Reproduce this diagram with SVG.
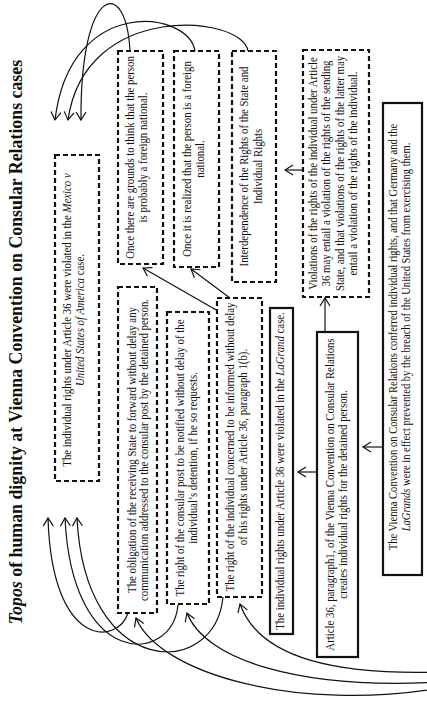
<svg xmlns="http://www.w3.org/2000/svg" width="427" height="703" viewBox="0 0 427 703">
<style>
.bx{fill:#fff;stroke:#111;stroke-width:2.2}
.d{stroke-dasharray:5 3}
.t{font-family:"Liberation Serif","Times New Roman",serif;font-size:12px;fill:#111;text-anchor:middle}
.ti{font-family:"Liberation Serif","Times New Roman",serif;font-size:18px;font-weight:bold;fill:#111;text-anchor:middle}
.c{fill:none;stroke:#111;stroke-width:1.2}
</style>
<defs>
<marker id="ah" viewBox="-10 -7 12 14" refX="0" refY="0" markerWidth="12" markerHeight="14" markerUnits="userSpaceOnUse" orient="auto">
<path d="M-8,-5 L0,0 L-8,5" fill="none" stroke="#111" stroke-width="1.2"/>
</marker>
</defs>
<rect width="427" height="703" fill="#fff"/>
<g id="title"><text class="ti" transform="translate(22,342) rotate(-90) scale(0.99,1)"><tspan font-style="italic">Topos</tspan> of human dignity at Vienna Convention on Consular Relations cases</text></g>
<g id="connectors">
<path class="c" marker-end="url(#ah)" d="M130,51 C126,-25 80,-15 81,120"/>
<path class="c" marker-end="url(#ah)" d="M195,51 C188,10 70,-5 55,120"/>
<path class="c" marker-end="url(#ah)" d="M248,51 C243,15 85,0 68,120"/>
<path class="c" marker-end="url(#ah)" d="M128,613 C118,645 52,650 48,518"/>
<path class="c" marker-end="url(#ah)" d="M178,605 C172,665 72,670 65,518"/>
<path class="c" marker-end="url(#ah)" d="M223,597 C215,680 85,680 77,518"/>
<path class="c" marker-end="url(#ah)" d="M440,672 C340,675 260,660 240,604"/>
<path class="c" marker-end="url(#ah)" d="M440,682 C300,690 205,660 187,613"/>
<path class="c" marker-end="url(#ah)" d="M440,688 C300,712 160,675 136,618"/>
<path class="c" marker-end="url(#ah)" d="M218,311 L143,268"/>
<path class="c" marker-end="url(#ah)" d="M230,298 L191,269"/>
<path class="c" marker-end="url(#ah)" d="M325,332 L325,298"/>
<path class="c" marker-end="url(#ah)" d="M303,170 L285,170"/>
<path class="c" marker-end="url(#ah)" d="M318,472 L298,472"/>
<path class="c" marker-end="url(#ah)" d="M383,447 L363,447"/>
</g>
<g id="nA"><rect class="bx d" x="55" y="155" width="44" height="326"/>
<text class="t" transform="translate(71,320) rotate(-90) scale(0.9,1)"><tspan x="0" y="0">The individual rights under Article 36 were violated in the <tspan font-style="italic">Mexico v</tspan></tspan><tspan x="0" y="13"><tspan font-style="italic">United States of America</tspan> case.</tspan></text></g>
<g id="nB"><rect class="bx d" x="118" y="51" width="45" height="213"/>
<text class="t" transform="translate(134,157.5) rotate(-90) scale(0.9,1)"><tspan x="0" y="0">Once there are grounds to think that the person</tspan><tspan x="0" y="13">is probably a foreign national.</tspan></text></g>
<g id="nC"><rect class="bx d" x="174" y="51" width="45" height="216"/>
<text class="t" transform="translate(191,159) rotate(-90) scale(0.9,1)"><tspan x="0" y="0">Once it is realized that the person is a foreign</tspan><tspan x="0" y="13">national.</tspan></text></g>
<g id="nD"><rect class="bx d" x="232" y="51" width="44" height="231"/>
<text class="t" transform="translate(248,166.5) rotate(-90) scale(0.9,1)"><tspan x="0" y="0">Interdependence of the Rights of the State and</tspan><tspan x="0" y="14">Individual Rights</tspan></text></g>
<g id="nE"><rect class="bx d" x="303" y="50" width="66" height="247"/>
<text class="t" transform="translate(317,173.5) rotate(-90) scale(0.9,1)"><tspan x="0" y="0">Violations of the rights of the individual under Article</tspan><tspan x="0" y="13.4">36 may entail a violation of the rights of the sending</tspan><tspan x="0" y="26.8">State, and that violations of the rights of the latter may</tspan><tspan x="0" y="40.2">entail a violation of the rights of the individual.</tspan></text></g>
<g id="nF"><rect class="bx" x="383" y="103" width="39" height="472"/>
<text class="t" transform="translate(397,337) rotate(-90) scale(0.88,1)"><tspan x="0" y="0">The Vienna Convention on Consular Relations conferred individual rights, and that Germany and the</tspan><tspan x="0" y="13"><tspan font-style="italic">LaGrands</tspan> were in effect prevented by the breach of the United States from exercising them.</tspan></text></g>
<g id="nG"><rect class="bx d" x="118" y="287" width="39" height="326"/>
<text class="t" transform="translate(136,450) rotate(-90) scale(0.9,1)"><tspan x="0" y="0">The obligation of the receiving State to forward without delay any</tspan><tspan x="0" y="12.5">communication addressed to the consular post by the detained person.</tspan></text></g>
<g id="nH"><rect class="bx d" x="167" y="312" width="42" height="292"/>
<text class="t" transform="translate(184,458) rotate(-90) scale(0.9,1)"><tspan x="0" y="0">The right of the consular post to be notified without delay of the</tspan><tspan x="0" y="13">individual’s detention, if he so requests.</tspan></text></g>
<g id="nI"><rect class="bx d" x="217" y="298" width="45" height="299"/>
<text class="t" transform="translate(234,447) rotate(-90) scale(0.9,1)"><tspan x="0" y="0">The right of the individual concerned to be informed without delay</tspan><tspan x="0" y="13">of his rights under Article 36, paragraph 1(b).</tspan></text></g>
<g id="nJ"><rect class="bx" x="270" y="308" width="23" height="326"/>
<text class="t" transform="translate(284,471) rotate(-90) scale(0.9,1)">The individual rights under Article 36 were violated in the <tspan font-style="italic">LaGrand</tspan> case.</text></g>
<g id="nK"><rect class="bx" x="317" y="332" width="41" height="325"/>
<text class="t" transform="translate(334,494.5) rotate(-90) scale(0.9,1)"><tspan x="0" y="0">Article 36, paragraph1, of the Vienna Convention on Consular Relations</tspan><tspan x="0" y="13">creates individual rights for the detained person.</tspan></text></g>
</svg>
